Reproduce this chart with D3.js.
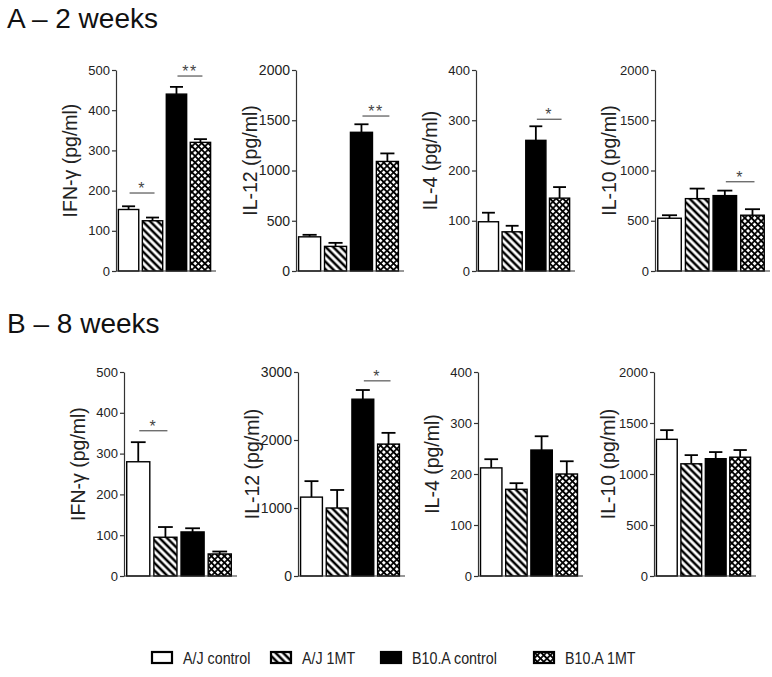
<!DOCTYPE html>
<html>
<head>
<meta charset="utf-8">
<script src="https://cdn.jsdelivr.net/npm/d3@7"></script>
<style>
  body { margin: 0; background: #fff; }
  svg { display: block; font-family: "Liberation Sans", Arial, sans-serif; }
</style>
</head>
<body>
<div id="chart"></div>
<script>
// groups (legend order)
var groups = ["A/J control", "A/J 1MT", "B10.A control", "B10.A 1MT"];
var yLabels = ["IFN-γ (pg/ml)", "IL-12 (pg/ml)", "IL-4 (pg/ml)", "IL-10 (pg/ml)"];

// 2 weeks
var week2Max = [500, 2000, 400, 2000];
var week2Step = [100, 500, 100, 500];
var week2Mean = [[153, 125, 440, 320], [340, 245, 1380, 1090], [98, 78, 260, 145], [525, 720, 750, 555]];
var week2Sem = [[8, 8, 18, 8], [20, 35, 80, 80], [18, 12, 28, 22], [30, 100, 50, 60]];
var week2Sig = [[[0, 1, 194, "*"], [2, 3, 485, "**"]], [[2, 3, 1542, "**"]], [[2, 3, 302, "*"]], [[2, 3, 888, "*"]]];

// 8 weeks
var week8Max = [500, 3000, 400, 2000];
var week8Step = [100, 1000, 100, 500];
var week8Mean = [[280, 95, 108, 54], [1160, 1000, 2600, 1940], [212, 170, 247, 200], [1340, 1100, 1150, 1165]];
var week8Sem = [[48, 25, 9, 6], [235, 265, 135, 165], [17, 12, 27, 25], [90, 85, 65, 70]];
var week8Sig = [[[0, 1, 356, "*"]], [[2, 3, 2870, "*"]], [], []];

var W = 772, H = 677;
var fills = ["white", "url(#hatch)", "black", "url(#cross)"];
var wideFont = [false, true, false, false];   // IL-12 panels use larger tick text in the original

var svg = d3.select("#chart").append("svg")
  .attr("width", W)
  .attr("height", H);

var defs = svg.append("defs");

// "\\\" stripes
var hatch = defs.append("pattern")
  .attr("id", "hatch")
  .attr("patternUnits", "userSpaceOnUse")
  .attr("width", 5.3)
  .attr("height", 5.3)
  .attr("patternTransform", "rotate(-45)");
hatch.append("rect").attr("width", 5.3).attr("height", 5.3).attr("fill", "white");
hatch.append("line")
  .attr("x1", 2.65).attr("y1", 0).attr("x2", 2.65).attr("y2", 5.3)
  .attr("stroke", "black")
  .attr("stroke-width", 2.5);

// cross hatch, white diamonds
var cs = 4.6;
var cross = defs.append("pattern")
  .attr("id", "cross")
  .attr("patternUnits", "userSpaceOnUse")
  .attr("width", cs)
  .attr("height", cs)
  .attr("patternTransform", "rotate(45)");
cross.append("rect").attr("width", cs).attr("height", cs).attr("fill", "white");
cross.append("path")
  .attr("d", "M0,0V" + cs + "M0,0H" + cs + "M" + cs + ",0V" + cs + "M0," + cs + "H" + cs)
  .attr("stroke", "black")
  .attr("stroke-width", 1.7);

var rows = [
  { title: "A – 2 weeks", titleY: 28, yBottom: 271, yTop: 70,
    axisX: [116, 296, 476, 655], plotW: [97, 105, 96, 112],
    max: week2Max, step: week2Step, mean: week2Mean, sem: week2Sem, sig: week2Sig },
  { title: "B – 8 weeks", titleY: 333, yBottom: 576, yTop: 372,
    axisX: [124, 298, 478, 654], plotW: [110, 104, 102, 99],
    max: week8Max, step: week8Step, mean: week8Mean, sem: week8Sem, sig: week8Sig }
];

function drawPanel(row, i) {
  var x0 = row.axisX[i];
  var g = svg.append("g");

  var xScale = d3.scaleBand()
    .domain(groups)
    .range([x0, x0 + row.plotW[i]])
    .paddingInner(0.15)
    .paddingOuter(0.1);

  var yScale = d3.scaleLinear()
    .domain([0, row.max[i]])
    .range([row.yBottom, row.yTop]);

  var data = groups.map(function(d, j) {
    return { group: d, mean: row.mean[i][j], sem: row.sem[i][j], fill: fills[j] };
  });

  // error bars (upper half only)
  var err = g.selectAll("g.err")
    .data(data)
    .enter()
    .append("g")
    .attr("class", "err");

  err.append("line")
    .attr("x1", function(d) { return xScale(d.group) + xScale.bandwidth() / 2; })
    .attr("x2", function(d) { return xScale(d.group) + xScale.bandwidth() / 2; })
    .attr("y1", function(d) { return yScale(d.mean); })
    .attr("y2", function(d) { return yScale(d.mean + d.sem); })
    .attr("stroke", "black")
    .attr("stroke-width", 1.8);

  err.append("line")
    .attr("x1", function(d) { return xScale(d.group) + xScale.bandwidth() * 0.18; })
    .attr("x2", function(d) { return xScale(d.group) + xScale.bandwidth() * 0.82; })
    .attr("y1", function(d) { return yScale(d.mean + d.sem); })
    .attr("y2", function(d) { return yScale(d.mean + d.sem); })
    .attr("stroke", "black")
    .attr("stroke-width", 1.8);

  g.selectAll("rect.bar")
    .data(data)
    .enter()
    .append("rect")
    .attr("class", "bar")
    .attr("x", function(d) { return xScale(d.group); })
    .attr("y", function(d) { return yScale(d.mean); })
    .attr("width", xScale.bandwidth())
    .attr("height", function(d) { return yScale(0) - yScale(d.mean); })
    .attr("fill", function(d) { return d.fill; })
    .attr("stroke", "black")
    .attr("stroke-width", 1.4);

  var yAxis = d3.axisLeft(yScale)
    .tickValues(d3.range(0, row.max[i] + 1, row.step[i]))
    .tickFormat(d3.format("d"))
    .tickSize(4)
    .tickSizeOuter(0)
    .tickPadding(2);

  var ax = g.append("g")
    .attr("transform", "translate(" + x0 + ",0)")
    .call(yAxis);
  ax.select(".domain").attr("stroke", "#333").attr("stroke-width", 1.2);
  ax.selectAll(".tick line").attr("stroke", "#333").attr("stroke-width", 1.2);
  ax.selectAll(".tick text")
    .attr("fill", "#222")
    .style("font-family", "Liberation Sans, Arial, sans-serif")
    .style("font-size", wideFont[i] ? "14px" : "13px");

  // x baseline, no ticks
  g.append("line")
    .attr("x1", x0)
    .attr("x2", x0 + row.plotW[i] + 3)
    .attr("y1", yScale(0))
    .attr("y2", yScale(0))
    .attr("stroke", "#333")
    .attr("stroke-width", 1.2);

  // y title
  var midY = (row.yBottom + row.yTop) / 2 - 10;
  g.append("text")
    .attr("transform", "translate(" + (x0 - 46) + "," + midY + ") rotate(-90)")
    .attr("dy", "0.35em")
    .attr("text-anchor", "middle")
    .style("font-size", "19.5px")
    .attr("fill", "#222")
    .text(yLabels[i]);

  // significance brackets
  row.sig[i].forEach(function(s) {
    var xa = xScale(groups[s[0]]) + xScale.bandwidth() / 2 + 1;
    var xb = xScale(groups[s[1]]) + xScale.bandwidth() / 2 + 2;
    var ys = yScale(s[2]);
    g.append("line")
      .attr("x1", xa).attr("x2", xb)
      .attr("y1", ys).attr("y2", ys)
      .attr("stroke", "#555")
      .attr("stroke-width", 1.2);
    g.append("text")
      .attr("x", (xa + xb) / 2)
      .attr("y", ys + 1)
      .attr("text-anchor", "middle")
      .style("font-size", "16px")
      .style("letter-spacing", "1.5px")
      .attr("fill", "#444")
      .text(s[3]);
  });
}

rows.forEach(function(row) {
  svg.append("text")
    .attr("x", 7)
    .attr("y", row.titleY)
    .style("font-size", "28px")
    .attr("fill", "#111")
    .text(row.title);
  for (var i = 0; i < 4; i++) drawPanel(row, i);
});

// legend
var legendX = [152, 271, 381, 534];
var legend = svg.selectAll("g.legend")
  .data(groups)
  .enter()
  .append("g")
  .attr("class", "legend")
  .attr("transform", function(d, j) { return "translate(" + legendX[j] + ",652)"; });

legend.append("rect")
  .attr("width", 20)
  .attr("height", 11)
  .attr("fill", function(d, j) { return fills[j]; })
  .attr("stroke", "black")
  .attr("stroke-width", 2.2);

// condensed look of the original legend text
legend.append("text")
  .attr("transform", "translate(31,12) scale(0.84,1)")
  .style("font-size", "17px")
  .attr("fill", "#222")
  .text(function(d) { return d; });
</script>
</body>
</html>
